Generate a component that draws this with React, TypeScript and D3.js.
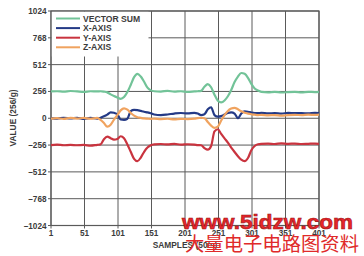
import React from "react";
import * as d3 from "d3";

const samples = [1, 10, 20, 30, 40, 50, 60, 70,
  75, 80, 85, 90, 95, 100, 105, 110, 115, 120, 125, 130, 135, 140, 145, 150, 155,
  165, 175, 185, 195, 205, 215, 220,
  225, 230, 235, 240, 245, 250, 255, 260, 265, 270, 275, 280, 285, 290, 295, 300, 305, 310, 315,
  325, 335, 345, 355, 365, 375, 385, 395, 401];

const vectorSum = [256, 258, 254, 260, 256, 252, 258, 256,
  258, 254, 247, 228, 212, 198, 185, 202, 250, 318, 392, 424, 398, 348, 292, 266, 258,
  255, 262, 254, 258, 252, 256, 258,
  262, 300, 325, 296, 225, 168, 152, 170, 210, 270, 345, 398, 432, 424, 386, 328, 284, 264, 252,
  248, 252, 246, 250, 252, 248, 252, 250, 252];

const xAxis = [2, -4, 5, -2, 4, -6, 3, -3,
  5, 18, 35, 57, 52, 38, -12, -15, -5, 68, 80, 78, 70, 62, 56, 48, 36,
  30, 36, 45, 50, 46, 52, 45,
  30, 38, 85, 105, 30, 15, 20, 35, 50, 57, 45, 0, 45, 65, 62, 55, 50, 48, 52,
  46, 50, 44, 52, 48, 50, 46, 52, 50];

const yAxis = [-256, -252, -258, -254, -258, -255, -262, -254,
  -250, -200, -175, -190, -205, -198, -172, -190, -250, -320, -388, -410, -375, -320, -280, -258, -250,
  -246, -250, -244, -252, -248, -252, -256,
  -258, -285, -300, -265, -125, -105, -150, -192, -232, -280, -322, -362, -396, -410, -380, -305, -265, -248, -244,
  -242, -246, -240, -244, -242, -246, -244, -242, -244];

const zAxis = [-4, 2, -6, 4, -3, 3, -5, 4,
  -15, -45, -80, -62, -12, 30, 75, 95, 82, 50, 25, 10, 4, -2, -4, -6, -4,
  -8, -5, -10, -6, -8, -4, 2,
  5, 0, -35, -70, -92, -80, -22, 30, 70, 92, 100, 86, 66, 52, 44, 38, 34, 30, 32,
  28, 30, 26, 30, 32, 30, 34, 32, 34];

const seriesNames = ["VECTOR SUM", "X-AXIS", "Y-AXIS", "Z-AXIS"];
const seriesColors = ["#72c398", "#243a86", "#c9343f", "#f0a35f"];
const seriesValues = [vectorSum, xAxis, yAxis, zAxis];

const xTicks = [1, 51, 101, 151, 201, 251, 301, 351, 401];
const yTicks = [-1024, -768, -512, -256, 0, 256, 512, 768, 1024];
const yTickLabels = ["\u20131024", "\u2013768", "\u2013512", "\u2013256", "0", "256", "512", "768", "1024"];

const xTitle = "SAMPLES (50/s)";
const yTitle = "VALUE (256/g)";
const watermark1 = "www.5idzw.com";
const watermark2 = "大量电子电路图资料";

export default function App() {
  const W = 364, H = 256;
  const x = d3.scaleLinear().domain([1, 401]).range([51, 319]);
  const y = d3.scaleLinear().domain([-1024, 1024]).range([225.5, 11]);
  const line = d3.line<number>()
    .x((_, i) => x(samples[i]))
    .y((d) => y(d))
    .curve(d3.curveMonotoneX);
  const font = "'Liberation Sans', Arial, sans-serif";
  const gridColor = "#5a5a5a";
  const textColor = "#3c3c3c";
  const legendRowY = [18.5, 28.1, 37.7, 47.3];

  return (
    <svg width={W} height={H} style={{ position: "absolute", left: 0, top: 0, background: "#fff" }}>
      <rect x={0} y={0} width={W} height={H} fill="#fff" />
      {xTicks.map((t) => (
        <line key={"gx" + t} x1={x(t)} x2={x(t)} y1={y(1024)} y2={y(-1024) + 3} stroke={gridColor} strokeWidth={1} />
      ))}
      {yTicks.map((t) => (
        <line key={"gy" + t} x1={x(1) - 3} x2={x(401)} y1={y(t)} y2={y(t)} stroke={gridColor} strokeWidth={1} />
      ))}
      <rect x={x(1) + 0.5} y={y(1024) + 0.5} width={97} height={45} fill="#fff" />
      <rect x={x(1)} y={y(1024)} width={x(401) - x(1)} height={y(-1024) - y(1024)} fill="none" stroke={gridColor} strokeWidth={1.2} />
      {seriesValues.map((vals, i) => (
        <path key={"s" + i} d={line(vals) || ""} fill="none" stroke={seriesColors[i]} strokeWidth={2.2} strokeLinejoin="round" />
      ))}
      {seriesNames.map((n, i) => (
        <g key={"lg" + i}>
          <line x1={56} x2={80} y1={legendRowY[i]} y2={legendRowY[i]} stroke={seriesColors[i]} strokeWidth={2} />
          <text x={83} y={legendRowY[i] + 3} fontFamily={font} fontWeight="bold" fontSize={8.6} fill={textColor}>{n}</text>
        </g>
      ))}
      {yTicks.map((t, i) => (
        <text key={"yl" + t} x={46.5} y={y(t) + 3} textAnchor="end" fontFamily={font} fontWeight="bold" fontSize={8.2} fill={textColor}>{yTickLabels[i]}</text>
      ))}
      {xTicks.map((t) => (
        <text key={"xl" + t} x={x(t)} y={235.5} textAnchor="middle" fontFamily={font} fontWeight="bold" fontSize={8.2} fill={textColor}>{t}</text>
      ))}
      <text x={185} y={248} textAnchor="middle" fontFamily={font} fontWeight="bold" fontSize={8.4} fill={textColor}>{xTitle}</text>
      <text transform="translate(16,118) rotate(-90)" textAnchor="middle" fontFamily={font} fontWeight="bold" fontSize={8.4} fill={textColor}>{yTitle}</text>
      <text x={182} y={229} fontFamily={font} fontWeight="bold" fontSize={21} fill="#e8262b" stroke="#9a1414" strokeWidth={0.6} textLength={171} lengthAdjust="spacingAndGlyphs">{watermark1}</text>
      <text x={185} y={251} fontFamily="'Noto Sans CJK SC', sans-serif" fontSize={19} fill="#e02a2a" textLength={174} lengthAdjust="spacingAndGlyphs">{watermark2}</text>
    </svg>
  );
}
